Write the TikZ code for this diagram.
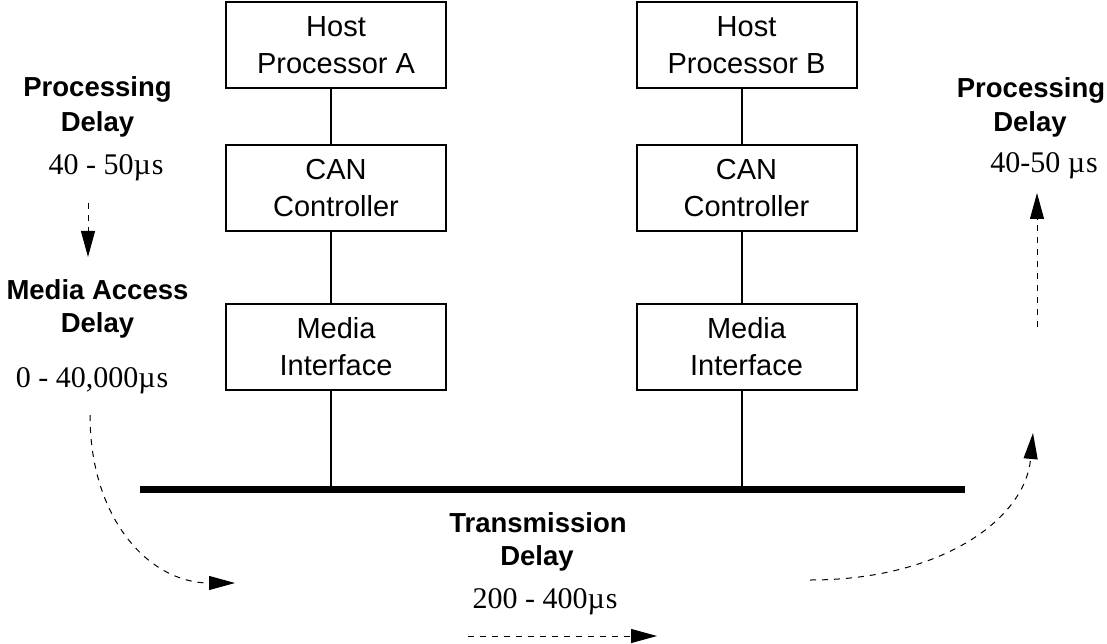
\documentclass[tikz,border=0pt]{standalone}
\usepackage{fontspec}
\setmainfont{Liberation Serif}
\setsansfont{Liberation Sans}
\usetikzlibrary{arrows.meta}
\begin{document}
\begin{tikzpicture}[x=1pt,y=-1pt,
  unit/.style={draw,line width=2pt,minimum width=220pt,minimum height=86pt,
    align=center,inner sep=0pt,font=\sffamily\fontsize{29}{37}\selectfont},
  tag/.style={anchor=base,inner sep=0pt,font=\sffamily\bfseries\fontsize{27.5}{33}\selectfont},
  val/.style={anchor=base,inner sep=0pt,font=\fontsize{30}{36}\selectfont},
  link/.style={line width=2pt},
  bus/.style={line width=7pt},
  flow/.style={line width=1pt,dash pattern=on 6pt off 6pt,
    -{Triangle[length=26pt,width=14pt]}},
]
\useasboundingbox (0,0) rectangle (1107,644);

% station A
\node[unit] (hA) at (336,45.5)  {Host\\Processor A};
\node[unit] (cA) at (336,188)   {CAN\\Controller};
\node[unit] (mA) at (336,346.5) {Media\\Interface};
% station B
\node[unit] (hB) at (746.5,45.5)  {Host\\Processor B};
\node[unit] (cB) at (746.5,188)   {CAN\\Controller};
\node[unit] (mB) at (746.5,346.5) {Media\\Interface};

% the bus
\coordinate (busL) at (140,489.5);
\coordinate (busR) at (965,489.5);
\draw[bus] (busL) -- (busR);

% stacks and drops
\draw[link] ([xshift=-5pt]hA.south) -- ([xshift=-5pt]cA.north);
\draw[link] ([xshift=-5pt]cA.south) -- ([xshift=-5pt]mA.north);
\draw[link] ([xshift=-5pt]mA.south) -- ([xshift=-5pt]mA.south |- busL);
\draw[link] ([xshift=-4.5pt]hB.south) -- ([xshift=-4.5pt]cB.north);
\draw[link] ([xshift=-4.5pt]cB.south) -- ([xshift=-4.5pt]mB.north);
\draw[link] ([xshift=-4.5pt]mB.south) -- ([xshift=-4.5pt]mB.south |- busL);

% delay labels, left
\node[tag] (pdA1) at (97.5,97)  {Processing};
\node[tag] (pdA2) at (97.5,132) {Delay};
\node[val] (pdA3) at (106,175)  {40 - 50µ\kern1pt s};
\node[tag] (mad1) at (97.5,299) {Media Access};
\node[tag] (mad2) at (97.5,332) {Delay};
\node[val] (mad3) at (92,387)   {0 - 40,000µ\kern1pt s};

% delay labels, bottom
\node[tag] (td1) at (538,532) {Transmission};
\node[tag] (td2) at (537,565) {Delay};
\node[val] (td3) at (545,608) {200 - 400µ\kern1pt s};

% delay labels, right
\node[tag] (pdB1) at (1031,98)  {Processing};
\node[tag] (pdB2) at (1030,132) {Delay};
\node[val] (pdB3) at (1044,173) {40-50 µ\kern1pt s};

% timing flow
\coordinate (f1) at (88,203);
\coordinate (f2) at (88,257);
\coordinate (f3) at (90,415);
\coordinate (f4) at (235,583);
\coordinate (f5) at (468,636);
\coordinate (f6) at (657,636);
\coordinate (f7) at (810,580);
\coordinate (f8) at (1033,433);
\coordinate (f9) at (1037,327);
\coordinate (f10) at (1037,193);
\draw[flow] (f1) -- (f2);
\draw[flow] (f3) .. controls (90,520) and (150,583) .. (f4);
\draw[flow] (f5) -- (f6);
\draw[flow] (f7) .. controls (940,580) and (1025,520) .. (f8);
\draw[flow] (f9) -- (f10);
\end{tikzpicture}
\end{document}
